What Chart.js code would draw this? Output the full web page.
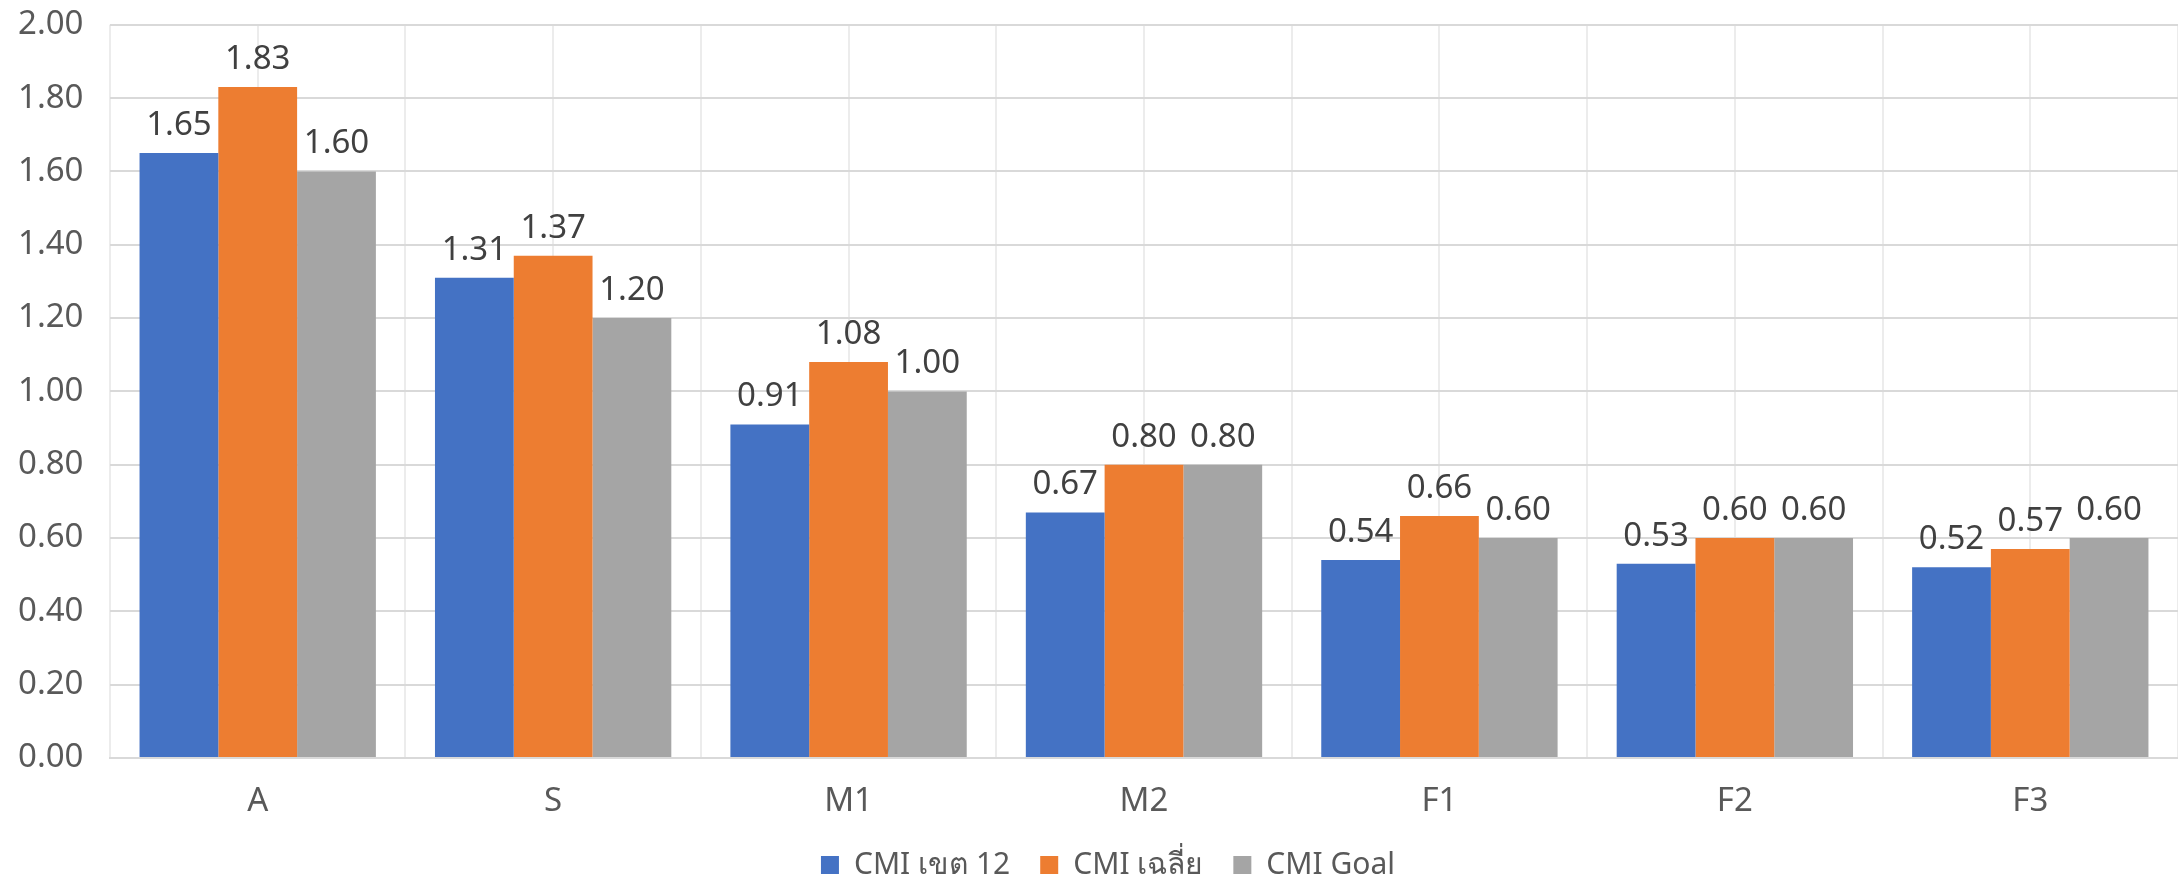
<!DOCTYPE html>
<html>
<head>
<meta charset="utf-8">
<script src="https://cdn.jsdelivr.net/npm/chart.js@4.4.1/dist/chart.umd.min.js"></script>
<style>
  html, body { margin: 0; padding: 0; background: #ffffff; }
  #wrap { width: 2178px; height: 878px; }
</style>
</head>
<body>
<div id="wrap"><canvas id="chart"></canvas></div>
<script>
// CMI by group — three bar series.

var categories = ["A", "S", "M1", "M2", "F1", "F2", "F3"];
var seriesNames = ["CMI เขต 12", "CMI เฉลี่ย", "CMI Goal"];
var cmiZone12 = [1.65, 1.31, 0.91, 0.67, 0.54, 0.53, 0.52];
var cmiAverage = [1.83, 1.37, 1.08, 0.80, 0.66, 0.60, 0.57];
var cmiGoal = [1.60, 1.20, 1.00, 0.80, 0.60, 0.60, 0.60];
var yTicks = [0, 0.2, 0.4, 0.6, 0.8, 1.0, 1.2, 1.4, 1.6, 1.8, 2.0];

var COLORS = ["#4472C4", "#ED7D31", "#A5A5A5"];
var FONT = "'Noto Sans', 'Open Sans', sans-serif";

Chart.defaults.font.family = FONT;
Chart.defaults.color = "#595959";

// value labels above each bar
var valueLabels = {
  id: "valueLabels",
  afterDatasetsDraw: function (chart) {
    var ctx = chart.ctx;
    ctx.save();
    ctx.font = "33px " + FONT;
    ctx.fillStyle = "#404040";
    ctx.textAlign = "center";
    ctx.textBaseline = "alphabetic";
    chart.data.datasets.forEach(function (ds, i) {
      chart.getDatasetMeta(i).data.forEach(function (bar, j) {
        ctx.fillText(ds.data[j].toFixed(2), bar.x, bar.y - 18);
      });
    });
    ctx.restore();
  }
};

// legend sits a little right of the canvas centre in the original
var legendShift = {
  id: "legendShift",
  afterLayout: function (chart) {
    chart.legend.left += 10;
    chart.legend.right += 10;
  }
};

new Chart(document.getElementById("chart"), {
  type: "bar",
  data: {
    labels: categories,
    datasets: [
      { label: seriesNames[0], data: cmiZone12, backgroundColor: COLORS[0] },
      { label: seriesNames[1], data: cmiAverage, backgroundColor: COLORS[1] },
      { label: seriesNames[2], data: cmiGoal, backgroundColor: COLORS[2] }
    ]
  },
  options: {
    responsive: true,
    maintainAspectRatio: false,
    animation: false,
    devicePixelRatio: 1,
    layout: { padding: { top: 0, right: 0, left: 18, bottom: -12 } },
    datasets: { bar: { categoryPercentage: 0.8, barPercentage: 1.0, borderWidth: 0 } },
    plugins: {
      legend: {
        position: "bottom",
        labels: { font: { size: 30 }, color: "#595959", boxWidth: 18, boxHeight: 18, padding: 30 }
      },
      tooltip: { enabled: false }
    },
    scales: {
      x: {
        grid: { offset: true, color: "#ececec", lineWidth: 2, drawTicks: false },
        border: { display: true, color: "#d9d9d9", width: 2 },
        ticks: { font: { size: 33 }, color: "#595959", padding: 24 },
        afterFit: function (s) { s.height = 62; }
      },
      xMid: {
        type: "category",
        labels: categories,
        position: "bottom",
        offset: true,
        grid: { offset: false, color: "#ececec", lineWidth: 2, drawTicks: false },
        border: { display: false },
        ticks: { display: false },
        afterFit: function (s) { s.height = 0; }
      },
      y: {
        min: 0,
        max: 2,
        afterBuildTicks: function (s) { s.ticks = yTicks.map(function (v) { return { value: v }; }); },
        afterFit: function (s) { s.width = 92; },
        grid: { color: "#d9d9d9", lineWidth: 2, drawTicks: false },
        border: { display: false },
        ticks: {
          font: { size: 33 }, color: "#595959", padding: 5, crossAlign: "far",
          callback: function (v) { return Number(v).toFixed(2); }
        }
      }
    }
  },
  plugins: [valueLabels, legendShift]
});
</script>
</body>
</html>
